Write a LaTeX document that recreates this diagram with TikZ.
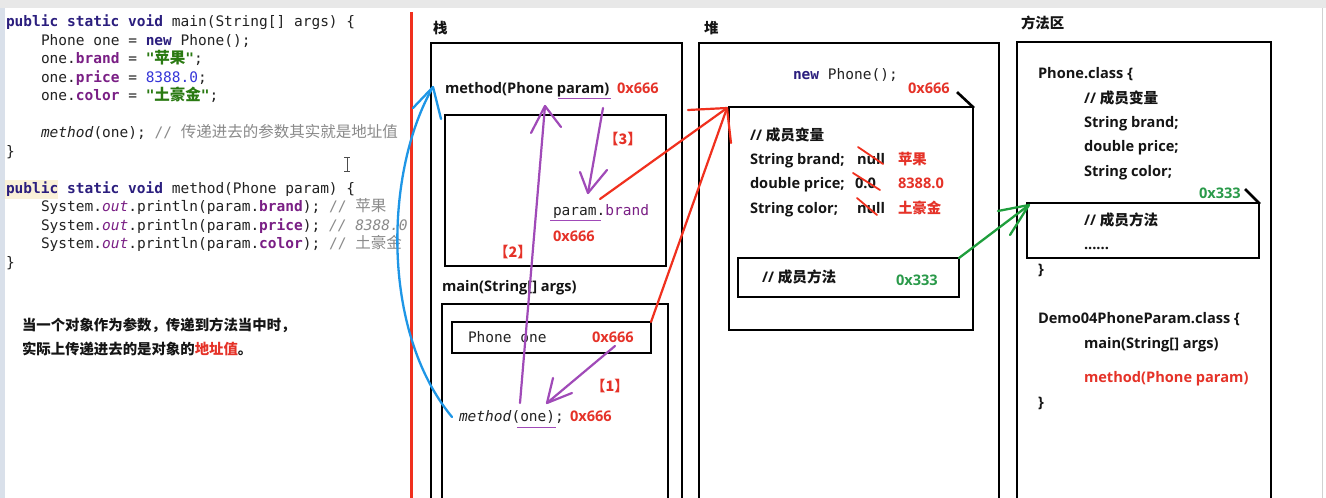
\documentclass[tikz,border=0pt]{standalone}
\usepackage{fontspec}
\setmonofont{DejaVu Sans Mono}
\newfontfamily\cjk{Noto Sans CJK SC}
\newfontfamily\osans{Open Sans}
\definecolor{redt}{HTML}{E53228}
\definecolor{redl}{HTML}{F0301E}
\definecolor{purp}{HTML}{A04AB8}
\definecolor{bluel}{HTML}{1E96E6}
\definecolor{greenl}{HTML}{1E9E3C}
\definecolor{greent}{HTML}{2A9A4A}
\definecolor{kw}{HTML}{2B1E7E}
\definecolor{fld}{HTML}{7A1F85}
\definecolor{strc}{HTML}{2A7A12}
\definecolor{num}{HTML}{3535D8}
\definecolor{cmt}{HTML}{8A8A8A}
\definecolor{codeblk}{HTML}{222222}
\definecolor{inkblk}{HTML}{151515}
\definecolor{sidebar}{HTML}{D9E0EA}
\definecolor{hilite}{HTML}{FAF1D8}
\newcommand\zh[1]{{\cjk #1}}
\newcommand\zhc[1]{{\fontsize{15.5}{17}\selectfont\cjk #1}}
\newcommand\cf{\fontsize{14.5}{17}\selectfont\ttfamily\color{codeblk}}
\newcommand\bsans{\fontsize{14.6}{16}\selectfont\osans\bfseries\color{inkblk}}
\newcommand\bzh{\fontsize{14.4}{16}\selectfont\cjk\bfseries\color{inkblk}}
\tikzset{
  txt/.style={anchor=base west, inner sep=0pt, outer sep=0pt},
  frame/.style={line width=2.6pt, black, line cap=rect},
  purarrow/.style={line width=2.2pt, purp, line cap=round, line join=round},
  redarrow/.style={line width=2.2pt, redl, line cap=round},
  strike/.style={line width=1.8pt, redl, line cap=round},
  ul/.style={line width=1.8pt, purp},
}
\begin{document}
\begin{tikzpicture}[x=1pt,y=-1pt]
\useasboundingbox (0,0) rectangle (1326,498);
% window background
\fill[white] (0,0) rectangle (1326,498);
\fill[black!9] (0,0) rectangle (1326,8);
\fill[sidebar] (0,8) rectangle (5,498);
\draw[black!18, line width=1pt] (1322,8) -- (1322,498);
% highlight behind "public"
\fill[hilite] (5,180) rectangle (58,199);
% ---------------- code ----------------
\begin{scope}
\clip (0,8) rectangle (410,498);
\node[txt,font=\cf] (c1) at (6,26) {\textbf{\color{kw}public static void} main(String[] args) \{};
\node[txt,font=\cf] (c2) at (41,45) {Phone one = \textbf{\color{kw}new} Phone();};
\node[txt,font=\cf] (c3) at (41,63.5) {one.\textbf{\color{fld}brand} = \textbf{\color{strc}"\zhc{苹果}"};};
\node[txt,font=\cf] (c4) at (41,82) {one.\textbf{\color{fld}price} = {\color{num}8388.0};};
\node[txt,font=\cf] (c5) at (41,100.5) {one.\textbf{\color{fld}color} = \textbf{\color{strc}"\zhc{土豪金}"};};
\node[txt,font=\cf] (c6) at (41,137.5) {\textit{method}(one); {\color{cmt}// \zhc{传递进去的参数其实就是地址值}}};
\node[txt,font=\cf] (c7) at (6,156) {\}};
\node[txt,font=\cf] (c8) at (6,193) {\textbf{\color{kw}public static void} method(Phone param) \{};
\node[txt,font=\cf] (c9) at (41,211.5) {System.\textit{\color{fld}out}.println(param.\textbf{\color{fld}brand}); {\color{cmt}// \zhc{苹果}}};
\node[txt,font=\cf] (c10) at (41,230) {System.\textit{\color{fld}out}.println(param.\textbf{\color{fld}price}); {\color{cmt}\textit{// 8388.0}}};
\node[txt,font=\cf] (c11) at (41,248.5) {System.\textit{\color{fld}out}.println(param.\textbf{\color{fld}color}); {\color{cmt}// \zhc{土豪金}}};
\node[txt,font=\cf] (c12) at (6,267) {\}};
\end{scope}
% text cursor
\draw[black!70, line width=0.9pt] (344,157) -- (350,157) (347,157) -- (347,171) (344,171) -- (350,171);
% explanation
\node[txt,font=\bzh] (exp1) at (22,330) {当一个对象作为参数，传递到方法当中时，};
\node[txt,font=\bzh] (exp2) at (22,354) {实际上传递进去的是对象的{\color{redt}地址值}。};
% red separator
\draw[redl, line width=3pt] (411.5,12) -- (411.5,498);
% ---------------- stack ----------------
\node[txt,font=\bzh] (stackT) at (433,33) {栈};
\draw[frame] (431,498) -- (431,43) -- (682,43) -- (682,498);
\draw[frame] (445,115) rectangle (666,266);
\draw[frame] (442,498) -- (442,304) -- (668,304) -- (668,498);
\draw[frame] (452,322) rectangle (651,353);
\coordinate (phoneNE) at (651,322);
\node[txt,font=\bsans] (mhead) at (445,93) {method(Phone param)};
\node[txt,font=\bsans\color{redt}] (mheadAddr) at (617,93) {0x666};
\draw[ul] (558,98.5) -- (611,98.5);
\node[txt,font=\cf] (pbrand) at (553,215) {param.{\color{fld}brand}};
\draw[ul] (550,220.5) -- (601,220.5);
\node[txt,font=\bsans\color{redt}] (pbAddr) at (553,241) {0x666};
\node[txt,font=\bsans] (mainT) at (442,291) {main(String[] args)};
\node[txt,font=\cf] (pone) at (468,342) {Phone one};
\node[txt,font=\bsans\color{redt}] (poneAddr) at (592,342) {0x666};
\node[txt,font=\cf] (mcall) at (459,421) {\textit{method}(one);};
\draw[ul] (517,427.5) -- (556,427.5);
\node[txt,font=\bsans\color{redt}] (mcallAddr) at (570,421) {0x666};
\node[font=\bzh\color{redt}, inner sep=0pt] (s3) at (623,139) {【3】};
\node[font=\bzh\color{redt}, inner sep=0pt] (s2) at (513,252) {【2】};
\node[font=\bzh\color{redt}, inner sep=0pt] (s1) at (610,386) {【1】};
% ---------------- heap ----------------
\node[txt,font=\bzh] (heapT) at (704,33) {堆};
\draw[frame] (699,498) -- (699,43) -- (999,43) -- (999,498);
\draw[frame] (729,107) rectangle (973,330);
\draw[frame] (958,93) -- (973,107);
\draw[frame] (738,258) rectangle (959,297);
\coordinate (objNW) at (727,108);
\coordinate (mboxNE) at (959,258);
\node[txt,font=\cf] (newP) at (793,79) {\textbf{\color{kw}new} Phone();};
\node[txt,font=\bsans\color{redt}] (heapAddr) at (908,93) {0x666};
\node[txt,font=\bsans] (hv0) at (750,140) {// \zh{成员变量}};
\node[txt,font=\bsans] (hv1) at (750,164) {String brand;};
\node[txt,font=\bsans] (hv2) at (750,188.5) {double price;};
\node[txt,font=\bsans] (hv3) at (750,213) {String color;};
\node[txt,font=\bsans] (d1) at (857,164) {null};
\node[txt,font=\bsans] (d2) at (855,188.5) {0.0};
\node[txt,font=\bsans] (d3) at (857,213) {null};
\draw[strike] (858,147) -- (883,164);
\draw[strike] (853,173) -- (880,190);
\draw[strike] (857,198) -- (877,215);
\node[txt,font=\bzh\color{redt}] (val1) at (898,164) {苹果};
\node[txt,font=\bsans\color{redt}] (val2) at (898,188.5) {8388.0};
\node[txt,font=\bzh\color{redt}] (val3) at (898,213) {土豪金};
\node[txt,font=\bsans] (hm) at (762,282) {// \zh{成员方法}};
\node[txt,font=\bsans\color{greent}] (hmAddr) at (896,285) {0x333};
% ---------------- method area ----------------
\node[txt,font=\bzh] (maT) at (1021,28) {方法区};
\draw[frame] (1017,498) -- (1017,42) -- (1271,42) -- (1271,498);
\draw[frame] (1027,203) rectangle (1259,258);
\draw[frame] (1246,190) -- (1259,203);
\coordinate (clsNW) at (1029,205);
\node[txt,font=\bsans] (pc) at (1038,78) {Phone.class \{};
\node[txt,font=\bsans] (pc1) at (1084,103) {// \zh{成员变量}};
\node[txt,font=\bsans] (pc2) at (1084,127) {String brand;};
\node[txt,font=\bsans] (pc3) at (1084,151.5) {double price;};
\node[txt,font=\bsans] (pc4) at (1084,176) {String color;};
\node[txt,font=\bsans\color{greent}] (pcAddr) at (1199,198) {0x333};
\node[txt,font=\bsans] (pc5) at (1084,225) {// \zh{成员方法}};
\node[txt,font=\bsans] (pc6) at (1084,249) {......};
\node[txt,font=\bsans] (pc7) at (1038,274) {\}};
\node[txt,font=\bsans] (dc) at (1038,323) {Demo04PhoneParam.class \{};
\node[txt,font=\bsans] (dc1) at (1084,348) {main(String[] args)};
\node[txt,font=\bsans\color{redt}] (dc2) at (1084,382) {method(Phone param)};
\node[txt,font=\bsans] (dc3) at (1038,407) {\}};
% ---------------- connectors ----------------
\coordinate (mcallW) at (452,417);
\coordinate (mheadW) at (433,87);
\draw[bluel, line width=2.3pt, line cap=round] (mcallW) .. controls (380,330) and (385,170) .. (mheadW);
\draw[bluel, line width=2.3pt, line cap=round] (mheadW) -- ++(-20,21) (mheadW) -- ++(8,32);
% purple [3]
\coordinate (p3s) at (603,108);
\coordinate (p3t) at (588,193);
\draw[purarrow] (p3s) -- (p3t);
\draw[purarrow] (p3t) -- ++(-8,-21) (p3t) -- ++(19,-23);
% purple [2]
\coordinate (p2s) at (520,403);
\coordinate (p2t) at (545,106);
\draw[purarrow] (p2s) -- (p2t);
\draw[purarrow] (p2t) -- ++(-14,27) (p2t) -- ++(16,21);
% purple [1]
\coordinate (p1s) at (615,346);
\coordinate (p1t) at (547,403);
\draw[purarrow] (p1s) -- (p1t);
\draw[purarrow] (p1t) -- ++(6,-25) (p1t) -- ++(25,-10);
% red pointers
\coordinate (pbE) at (600,199);
\draw[redarrow] (phoneNE) -- (objNW);
\draw[redarrow] (pbE) -- (objNW);
\draw[redarrow] (objNW) -- ++(-39,2) (objNW) -- ++(4,35);
% green pointer
\draw[greenl, line width=2.3pt, line cap=round] (mboxNE) -- (clsNW);
\draw[greenl, line width=2.3pt, line cap=round] (clsNW) -- ++(-31,6) (clsNW) -- ++(-19,30);
\end{tikzpicture}
\end{document}
